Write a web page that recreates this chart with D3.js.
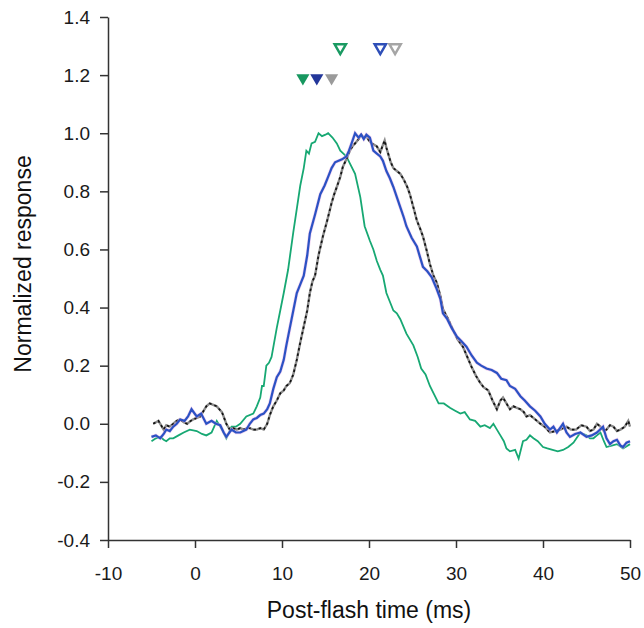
<!DOCTYPE html>
<html>
<head>
<meta charset="utf-8">
<script src="https://cdn.jsdelivr.net/npm/d3@7"></script>
<style>
  body { margin: 0; background: #fff; }
  text { font-family: "Liberation Sans", Arial, sans-serif; }
</style>
</head>
<body>
<script>
// DATA: [time (ms), normalized response]
const greenTrace = [[-5,-0.06],[-4.5,-0.05],[-4,-0.045],[-3.6,-0.055],[-3.3,-0.06],[-2.9,-0.05],[-2.5,-0.05],[-1.9,-0.04],[-1.3,-0.03],[-0.6,-0.02],[0.2,-0.025],[0.8,-0.035],[1.3,-0.04],[1.9,-0.03],[2.5,0.01],[3.1,-0.02],[3.6,-0.05],[4.2,-0.01],[4.7,-0.01],[5.2,0.0],[5.9,0.025],[6.7,0.035],[7.1,0.06],[7.5,0.09],[7.7,0.13],[7.9,0.13],[8.2,0.2],[8.5,0.21],[8.8,0.23],[9.1,0.28],[9.4,0.33],[9.8,0.39],[10.2,0.45],[10.7,0.53],[11.3,0.66],[11.7,0.74],[12.1,0.82],[12.5,0.88],[12.8,0.94],[13.1,0.93],[13.4,0.965],[13.8,0.97],[14.2,1.0],[14.6,0.99],[15.0,0.995],[15.3,1.0],[15.8,0.985],[16.3,0.965],[16.7,0.94],[17.4,0.92],[17.9,0.89],[18.4,0.86],[19.0,0.78],[19.5,0.68],[20.1,0.63],[20.5,0.6],[20.9,0.56],[21.3,0.53],[21.6,0.51],[22.0,0.45],[22.4,0.42],[22.8,0.39],[23.2,0.38],[23.6,0.36],[24.3,0.31],[25.1,0.27],[25.6,0.23],[26.0,0.19],[26.5,0.17],[27.0,0.13],[27.5,0.1],[28.0,0.07],[28.6,0.07],[29.3,0.055],[29.9,0.045],[30.5,0.035],[31.0,0.04],[31.6,0.015],[32.2,0.01],[32.8,-0.01],[33.3,-0.005],[33.9,-0.015],[34.3,0.0],[34.7,-0.02],[35.1,-0.04],[35.5,-0.06],[35.8,-0.085],[36.2,-0.095],[36.8,-0.09],[37.2,-0.12],[37.7,-0.06],[38.1,-0.055],[38.5,-0.04],[38.9,-0.05],[39.4,-0.06],[40.0,-0.08],[40.5,-0.085],[41.1,-0.09],[41.7,-0.095],[42.3,-0.09],[42.9,-0.08],[43.5,-0.065],[44.3,-0.03],[44.6,-0.035],[45.0,-0.04],[45.4,-0.05],[45.8,-0.05],[46.2,-0.04],[46.6,-0.03],[47.0,-0.06],[47.3,-0.08],[47.9,-0.075],[48.5,-0.07],[49.2,-0.085],[50,-0.07]];

const blueTrace = [[-5,-0.045],[-4.5,-0.04],[-4,-0.05],[-3.6,-0.035],[-3.3,-0.02],[-2.9,-0.025],[-2.5,-0.01],[-2.1,0.0],[-1.7,0.015],[-1.2,0.01],[-0.8,0.025],[-0.4,0.05],[0.2,0.025],[0.7,0.035],[1.3,0.0],[1.9,0.01],[2.4,0.0],[2.9,-0.005],[3.3,-0.03],[3.6,-0.045],[4.2,-0.02],[4.7,-0.03],[5.2,-0.03],[5.9,-0.02],[6.3,0.0],[6.7,0.015],[7.1,0.02],[7.5,0.03],[7.9,0.035],[8.3,0.05],[8.6,0.07],[9.0,0.12],[9.4,0.16],[9.8,0.18],[10.2,0.22],[10.5,0.27],[10.9,0.33],[11.3,0.39],[11.7,0.45],[12.1,0.48],[12.5,0.51],[12.9,0.58],[13.2,0.655],[13.8,0.72],[14.4,0.79],[14.9,0.82],[15.3,0.85],[15.7,0.88],[16.1,0.9],[16.5,0.905],[16.9,0.91],[17.4,0.92],[17.7,0.94],[18.0,0.965],[18.4,1.0],[18.8,0.985],[19.1,0.995],[19.4,0.98],[19.7,0.995],[20.1,0.985],[20.5,0.94],[20.9,0.93],[21.3,0.92],[21.6,0.905],[22.0,0.87],[22.4,0.845],[22.8,0.815],[23.2,0.78],[23.6,0.745],[24.0,0.71],[24.3,0.68],[24.9,0.64],[25.5,0.61],[25.9,0.57],[26.2,0.54],[26.7,0.525],[27.2,0.505],[27.7,0.47],[28.2,0.43],[28.5,0.38],[29.0,0.36],[29.5,0.33],[30.1,0.3],[30.6,0.285],[31.2,0.265],[31.8,0.235],[32.4,0.21],[32.9,0.2],[33.5,0.19],[34.1,0.185],[34.7,0.175],[35.2,0.155],[35.8,0.15],[36.2,0.13],[36.8,0.12],[37.4,0.095],[37.9,0.08],[38.5,0.06],[39.1,0.045],[39.7,0.025],[40.2,0.0],[40.8,-0.02],[41.2,-0.01],[41.6,-0.03],[42.3,0.0],[42.7,-0.03],[43.1,-0.045],[43.7,-0.035],[44.3,-0.03],[45.0,-0.045],[45.6,-0.04],[46.2,-0.03],[46.9,-0.01],[47.3,-0.05],[47.7,-0.07],[48.1,-0.06],[48.5,-0.055],[48.9,-0.075],[49.2,-0.08],[49.6,-0.065],[50,-0.06]];

const blackTrace = [[-4.8,0.0],[-4.2,0.01],[-3.6,-0.02],[-3.3,-0.005],[-2.9,-0.01],[-2.5,0.0],[-2.1,0.01],[-1.7,0.015],[-1.3,0.005],[-0.9,0.0],[-0.5,0.01],[-0.2,0.015],[0.2,0.02],[0.6,0.025],[1.0,0.045],[1.3,0.06],[1.7,0.07],[2.1,0.065],[2.5,0.06],[2.8,0.05],[3.1,0.04],[3.6,0.0],[4.0,-0.02],[4.4,-0.015],[4.8,-0.02],[5.2,-0.015],[5.6,-0.02],[6.0,-0.015],[6.3,-0.015],[6.7,-0.02],[7.1,-0.02],[7.5,-0.015],[7.9,-0.02],[8.3,0.0],[8.6,0.03],[9.0,0.06],[9.4,0.08],[9.8,0.105],[10.2,0.115],[10.5,0.13],[10.9,0.14],[11.3,0.17],[11.7,0.22],[12.1,0.28],[12.5,0.335],[12.9,0.39],[13.2,0.45],[13.5,0.49],[13.8,0.51],[14.2,0.58],[14.7,0.645],[15.2,0.7],[15.7,0.76],[16.0,0.79],[16.3,0.815],[16.7,0.85],[17.0,0.885],[17.4,0.91],[17.8,0.94],[18.1,0.955],[18.4,0.965],[18.8,0.98],[19.1,0.995],[19.4,0.985],[19.7,0.99],[20.0,0.975],[20.3,0.965],[20.6,0.96],[20.9,0.955],[21.3,0.935],[21.6,0.96],[21.8,0.975],[22.0,0.95],[22.2,0.93],[22.5,0.9],[22.8,0.88],[23.2,0.87],[23.6,0.86],[24.0,0.84],[24.4,0.815],[24.7,0.79],[25.1,0.745],[25.5,0.7],[25.9,0.67],[26.2,0.645],[26.6,0.6],[27.0,0.55],[27.4,0.51],[27.8,0.485],[28.2,0.44],[28.5,0.395],[29.1,0.36],[29.7,0.32],[30.2,0.29],[30.8,0.265],[31.3,0.23],[31.8,0.195],[32.3,0.165],[32.8,0.14],[33.2,0.125],[33.7,0.115],[34.2,0.08],[34.7,0.05],[35.1,0.08],[35.4,0.09],[35.8,0.07],[36.2,0.05],[36.6,0.06],[37.0,0.055],[37.4,0.05],[37.8,0.04],[38.1,0.025],[38.5,0.03],[39.1,0.015],[39.7,0.0],[40.2,-0.01],[40.8,-0.03],[41.4,-0.025],[42.0,-0.02],[42.7,-0.01],[43.2,-0.02],[43.8,-0.02],[44.4,-0.005],[45.0,-0.01],[45.4,-0.025],[45.8,-0.02],[46.2,0.0],[46.6,-0.01],[47.0,-0.025],[47.3,-0.02],[47.7,-0.005],[48.1,-0.01],[48.5,-0.025],[48.9,-0.02],[49.4,-0.01],[49.8,0.01],[50,-0.01]];

// latency markers (ms): filled = onset, open = peak; green, blue, gray
const onsetTimes = [12.4, 14.0, 15.7];
const peakTimes = [16.7, 21.3, 23.0];
const onsetLevel = 1.19;
const peakLevel = 1.295;

const xTicks = [-10, 0, 10, 20, 30, 40, 50];
const yTicks = [-0.4, -0.2, 0.0, 0.2, 0.4, 0.6, 0.8, 1.0, 1.2, 1.4];

//LAYOUT
const svgwidth = 644, svgheight = 628;
const margin = {top: 17, left: 108, right: 14, bottom: 88};
const graphwidth = svgwidth - margin.left - margin.right;
const graphheight = svgheight - margin.top - margin.bottom;

const svg = d3.select("body").append("svg")
    .attr("width", svgwidth).attr("height", svgheight);
const graph = svg.append("g")
    .attr("transform", `translate(${margin.left}, ${margin.top})`);

//SCALES
const X = d3.scaleLinear().domain([-10, 50]).range([0, graphwidth]);
const Y = d3.scaleLinear().domain([-0.4, 1.4]).range([graphheight, 0]);

//AXES
const xaxis = graph.append("g")
    .attr("transform", `translate(0, ${graphheight})`)
    .call(d3.axisBottom(X).tickValues(xTicks).tickSize(8).tickPadding(19).tickSizeOuter(0));
const yaxis = graph.append("g")
    .call(d3.axisLeft(Y).tickValues(yTicks).tickSize(8).tickPadding(10).tickSizeOuter(0)
        .tickFormat(d3.format(".1f")));

[xaxis, yaxis].forEach(a => {
    a.select(".domain").attr("stroke", "#333").attr("stroke-width", 1.5);
    a.selectAll(".tick line").attr("stroke", "#333").attr("stroke-width", 1.5);
    a.selectAll(".tick text").attr("fill", "#1a1a1a").style("font-size", "19px")
        .style("font-family", "'Liberation Sans', Arial, sans-serif");
});
yaxis.selectAll(".tick text").text(d => d3.format(".1f")(d).replace("−", "-"));
xaxis.selectAll(".tick text").text(d => String(d));

//TITLES
svg.append("text")
    .attr("x", margin.left + X(20)).attr("y", 618)
    .attr("text-anchor", "middle").attr("fill", "#111")
    .style("font-size", "23px")
    .text("Post-flash time (ms)");
svg.append("text")
    .attr("transform", `translate(31, ${margin.top + Y(0.55)}) rotate(-90)`)
    .attr("text-anchor", "middle").attr("fill", "#111")
    .style("font-size", "23px")
    .text("Normalized response");

//TRACES
const line = d3.line().x(d => X(d[0])).y(d => Y(d[1]));

graph.append("path").datum(greenTrace)
    .attr("d", line).attr("fill", "none")
    .attr("stroke", "#17a873").attr("stroke-width", 1.8);

graph.append("path").datum(blackTrace)
    .attr("d", line).attr("fill", "none")
    .attr("stroke", "#8c8c8c").attr("stroke-width", 2.4);
graph.append("path").datum(blackTrace)
    .attr("d", line).attr("fill", "none")
    .attr("stroke", "#111").attr("stroke-width", 1.7)
    .attr("stroke-dasharray", "2.5,3");

graph.append("path").datum(blueTrace)
    .attr("d", line).attr("fill", "none")
    .attr("stroke", "#e6b3e6").attr("stroke-width", 3.4).attr("stroke-opacity", 0.6);
graph.append("path").datum(blueTrace)
    .attr("d", line).attr("fill", "none")
    .attr("stroke", "#2b52c4").attr("stroke-width", 2.2);

//MARKERS
const tri = d3.symbol().type(d3.symbolTriangle).size(75);
const fillColors = ["#17975f", "#23379a", "#9a9a9a"];
const openColors = ["#1a9a62", "#2f4fb8", "#a5a5a5"];

graph.selectAll(".onset").data(onsetTimes).enter()
    .append("path").classed("onset", true)
    .attr("d", tri)
    .attr("transform", d => `translate(${X(d)}, ${Y(onsetLevel)}) rotate(180)`)
    .attr("fill", (d, i) => fillColors[i]);

graph.selectAll(".peak").data(peakTimes).enter()
    .append("path").classed("peak", true)
    .attr("d", d3.symbol().type(d3.symbolTriangle).size(55))
    .attr("transform", d => `translate(${X(d)}, ${Y(peakLevel)}) rotate(180)`)
    .attr("fill", "#fff")
    .attr("stroke", (d, i) => openColors[i])
    .attr("stroke-width", 2.5);
</script>
</body>
</html>
